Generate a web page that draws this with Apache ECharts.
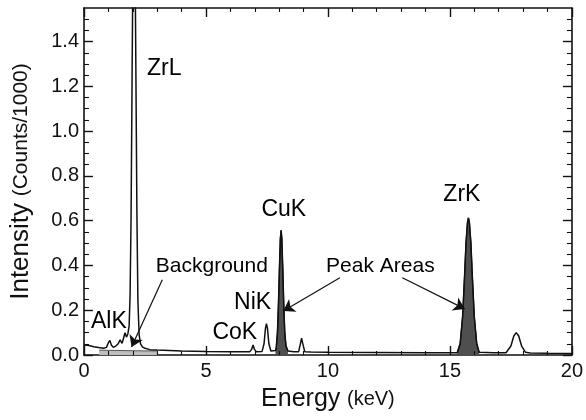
<!DOCTYPE html>
<html>
<head>
<meta charset="utf-8">
<script src="https://cdn.jsdelivr.net/npm/echarts@6/dist/echarts.min.js"></script>
<style>
html,body{margin:0;padding:0;background:#fff;}
#chart{width:586px;height:420px;}
</style>
</head>
<body>
<div id="chart"></div>
<script>
// ---- data ----
const energy = [0, 0.2, 0.4, 0.6, 0.8, 0.92, 1.0, 1.06, 1.12, 1.2, 1.3, 1.4, 1.48, 1.56, 1.62, 1.68, 1.74, 1.8, 1.85, 1.89, 1.93, 1.97, 2.01, 2.05, 2.09, 2.13, 2.17, 2.21, 2.26, 2.32, 2.4, 2.5, 2.7, 3.0, 3.5, 4.0, 5.0, 6.0, 6.8, 6.87, 6.93, 6.99, 7.06, 7.3, 7.38, 7.44, 7.48, 7.52, 7.58, 7.66, 7.85, 7.88, 7.93, 7.97, 8.01, 8.05, 8.08, 8.11, 8.15, 8.19, 8.23, 8.28, 8.36, 8.6, 8.8, 8.87, 8.92, 8.97, 9.05, 9.3, 10, 12, 14, 15.3, 15.42, 15.52, 15.6, 15.66, 15.72, 15.76, 15.8, 15.86, 15.92, 16.0, 16.1, 16.2, 16.8, 17.3, 17.5, 17.62, 17.72, 17.82, 17.94, 18.1, 18.3, 19, 20];
const intensity = [0.045, 0.042, 0.037, 0.033, 0.030, 0.034, 0.055, 0.065, 0.045, 0.034, 0.040, 0.050, 0.068, 0.052, 0.075, 0.100, 0.080, 0.095, 0.130, 0.270, 0.620, 1.220, 1.830, 2.100, 1.830, 1.220, 0.620, 0.240, 0.090, 0.050, 0.035, 0.030, 0.024, 0.022, 0.020, 0.018, 0.016, 0.015, 0.015, 0.025, 0.045, 0.025, 0.015, 0.016, 0.050, 0.120, 0.140, 0.120, 0.050, 0.018, 0.020, 0.030, 0.100, 0.220, 0.380, 0.520, 0.557, 0.520, 0.380, 0.220, 0.100, 0.040, 0.018, 0.014, 0.015, 0.050, 0.075, 0.050, 0.015, 0.013, 0.012, 0.011, 0.010, 0.010, 0.050, 0.170, 0.350, 0.500, 0.590, 0.613, 0.590, 0.500, 0.350, 0.170, 0.050, 0.012, 0.010, 0.010, 0.040, 0.085, 0.100, 0.085, 0.040, 0.012, 0.009, 0.008, 0.007];

// energy windows of the shaded peak areas (CuK, ZrK)
const peakWindows = [[7.85, 8.36], [15.3, 16.2]];

// estimated background under the low-energy region
const bgEnergy = [0.62, 1.0, 2.0, 3.0];
const bgLevel = [0.022, 0.021, 0.019, 0.018];

// tick values of the frame
const xMajorTicks = [0, 5, 10, 15, 20];
const xMinorTicks = [1, 2, 3, 4, 6, 7, 8, 9, 11, 12, 13, 14, 16, 17, 18, 19];
const yMajorTicks = [0, 0.2, 0.4, 0.6, 0.8, 1.0, 1.2, 1.4];
const yMinorTicks = [0.05, 0.1, 0.15, 0.25, 0.3, 0.35, 0.45, 0.5, 0.55, 0.65, 0.7, 0.75, 0.85, 0.9, 0.95, 1.05, 1.1, 1.15, 1.25, 1.3, 1.35, 1.45, 1.5];

// annotation labels (text, energy, intensity)
const labelText = ['ZrL', 'AlK', 'NiK', 'CoK', 'CuK', 'ZrK', 'Background', 'Peak Areas'];
const labelE = [3.29, 1.02, 6.91, 6.18, 8.19, 15.49, 5.24, 12.15];
const labelI = [1.278, 0.148, 0.233, 0.099, 0.65, 0.717, 0.395, 0.395];

// arrows (from -> to), in data units
const arrowFrom = [[3.21, 0.336], [10.49, 0.345], [13.05, 0.345]];
const arrowTo = [[1.95, 0.036], [8.17, 0.197], [15.61, 0.206]];

// ---- chart ----
const FONT = '"Liberation Sans", Arial, Helvetica, sans-serif';
const INK = '#111';
const X_MAX = 20, Y_MAX = 1.55;
const W = 586, H = 420;
const GRID = { left: 84, right: 10, top: 8, bottom: 65 };
// data units per pixel, from the axis ranges and the grid size
const DX = X_MAX / (W - GRID.left - GRID.right);
const DY = Y_MAX / (H - GRID.top - GRID.bottom);

const spectrum = energy.map((e, i) => [e, intensity[i]]);
const peaks = peakWindows.map(w => spectrum.filter(p => p[0] >= w[0] && p[0] <= w[1]));
const background = bgEnergy.map((e, i) => [e, bgLevel[i]]);
const smallLabels = ['Background', 'Peak Areas'];
const labelData = labelText.map((t, i) => ({
  name: t,
  value: [labelE[i], labelI[i]],
  label: { fontSize: smallLabels.includes(t) ? 21 : 23 }
}));

// inward tick marks on all four sides (markLine segments in data units)
function tickLines() {
  const out = [];
  const st = (w) => ({ color: INK, width: w, type: 'solid', opacity: 1 });
  const addX = (vals, len, w) => vals.forEach(v => {
    out.push([{ coord: [v, 0], lineStyle: st(w) }, { coord: [v, len * DY] }]);
    out.push([{ coord: [v, Y_MAX], lineStyle: st(w) }, { coord: [v, Y_MAX - len * DY] }]);
  });
  const addY = (vals, len, w) => vals.forEach(v => {
    out.push([{ coord: [0, v], lineStyle: st(w) }, { coord: [len * DX, v] }]);
    out.push([{ coord: [X_MAX, v], lineStyle: st(w) }, { coord: [X_MAX - len * DX, v] }]);
  });
  addX(xMajorTicks, 9, 1.4);
  addX(xMinorTicks, 4, 1.1);
  addY(yMajorTicks, 9, 1.4);
  addY(yMinorTicks, 5, 1.1);
  return out;
}

function frameAxis(kind, pos, showLabel) {
  return {
    type: 'value', min: 0, max: kind === 'x' ? X_MAX : Y_MAX, interval: kind === 'x' ? 5 : 0.2, position: pos,
    axisLine: { show: true, onZero: false, lineStyle: { color: INK, width: 1.6 } },
    axisTick: { show: false },
    axisLabel: { show: showLabel, fontSize: 20, color: INK, fontFamily: FONT, margin: 6,
      showMaxLabel: kind === 'x', formatter: kind === 'x' ? '{value}' : (v => v.toFixed(1)) },
    splitLine: { show: false }
  };
}

const xMain = frameAxis('x', 'bottom', true);
xMain.name = '{a|Energy}  {b|(keV)}';
xMain.nameLocation = 'middle';
xMain.nameGap = 32;
xMain.nameTextStyle = { color: INK, fontFamily: FONT,
  rich: { a: { fontSize: 25, fontFamily: FONT, color: INK }, b: { fontSize: 20, fontFamily: FONT, color: INK } } };

const yMain = frameAxis('y', 'left', true);
yMain.axisLabel.margin = 5;
yMain.name = '{a|Intensity}  {b|(Counts/1000)}';
yMain.nameLocation = 'middle';
yMain.nameRotate = 90;
yMain.nameGap = 50;
yMain.nameTextStyle = { color: INK, fontFamily: FONT,
  rich: { a: { fontSize: 26, fontFamily: FONT, color: INK }, b: { fontSize: 21, fontFamily: FONT, color: INK } } };

const chart = echarts.init(document.getElementById('chart'), null, { renderer: 'canvas' });
chart.setOption({
  animation: false,
  grid: GRID,
  xAxis: [xMain, frameAxis('x', 'top', false)],
  yAxis: [yMain, frameAxis('y', 'right', false)],
  series: [
    {
      type: 'line', name: 'Background', data: background, showSymbol: false, symbol: 'none',
      lineStyle: { color: '#555', width: 1 },
      areaStyle: { color: '#bdbdbd', opacity: 1, origin: 'start' }, z: 2
    },
    ...peaks.map((p, k) => ({
      type: 'line', name: 'Peak ' + k, data: p, showSymbol: false, symbol: 'none',
      lineStyle: { color: INK, width: 1.2 },
      areaStyle: { color: '#4f4f4f', opacity: 1, origin: 'start' }, z: 3
    })),
    {
      type: 'line', name: 'Spectrum', data: spectrum, showSymbol: false, symbol: 'none',
      lineStyle: { color: INK, width: 1.5 }, z: 4,
      markLine: {
        silent: true, animation: false, symbol: ['none', 'none'], symbolSize: 0,
        lineStyle: { color: INK, width: 1.2, type: 'solid', opacity: 1 },
        label: { show: false },
        emphasis: { disabled: true },
        data: tickLines()
      }
    },
    {
      type: 'scatter', name: 'Labels', data: labelData, symbolSize: 1,
      itemStyle: { color: 'rgba(0,0,0,0)', opacity: 1 }, silent: true, z: 6,
      label: { show: true, position: 'inside', formatter: '{b}', color: '#000', opacity: 1, fontFamily: FONT },
      markLine: {
        silent: true, animation: false,
        symbol: ['none', 'arrow'], symbolSize: 11,
        itemStyle: { color: INK },
        lineStyle: { color: INK, width: 1.2, type: 'solid', opacity: 1 },
        label: { show: false },
        emphasis: { disabled: true },
        data: arrowFrom.map((f, i) => [{ coord: f }, { coord: arrowTo[i] }])
      }
    }
  ]
});
</script>
</body>
</html>
